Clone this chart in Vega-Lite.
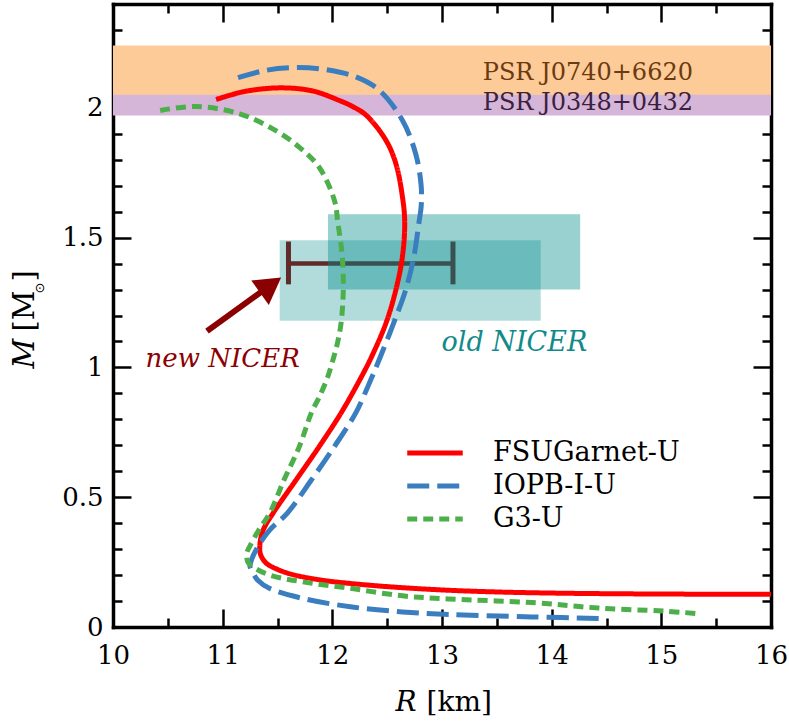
{
  "$schema": "https://vega.github.io/schema/vega-lite/v6.json",
  "width": 658,
  "height": 623,
  "autosize": {"type": "none"},
  "padding": {"left": 113, "top": 4, "right": 18, "bottom": 95},
  "background": "white",
  "config": {
    "view": {"stroke": null},
    "axis": {
      "grid": false,
      "labelFont": "DejaVu Serif",
      "labelFontSize": 26,
      "labelColor": "black",
      "titleFont": "DejaVu Serif",
      "titleFontSize": 28,
      "titleColor": "black",
      "titleFontWeight": "normal",
      "tickColor": "black",
      "tickWidth": 2.5,
      "domainColor": "black",
      "domainWidth": 3.5,
      "domainCap": "square",
      "labelFlush": false,
      "labelOverlap": false,
      "zindex": 1
    }
  },
  "datasets": {
    "bands": [
      {"name": "PSR J0740+6620", "r1": 10, "r2": 16, "m1": 2.04, "m2": 2.24},
      {"name": "PSR J0348+0432", "r1": 10, "r2": 16, "m1": 1.97, "m2": 2.05}
    ],
    "boxes": [
      {"name": "Miller 2019", "r1": 11.96, "r2": 14.26, "m1": 1.30, "m2": 1.59},
      {"name": "Riley 2019", "r1": 11.52, "r2": 13.90, "m1": 1.18, "m2": 1.49}
    ],
    "newnicer": [
      {"R": 12.35, "r_lo": 11.6, "r_hi": 13.1, "M": 1.40}
    ],
    "caps": [
      {"R": 11.6, "m_lo": 1.32, "m_hi": 1.485},
      {"R": 13.1, "m_lo": 1.32, "m_hi": 1.485}
    ],
    "arrow": [
      {"r1": 10.857, "m1": 1.14, "r2": 11.437, "m2": 1.317}
    ],
    "labels": [
      {"text": "PSR J0740+6620", "R": 14.33, "M": 2.109},
      {"text": "PSR J0348+0432", "R": 14.33, "M": 1.99},
      {"text": "new NICER", "R": 11.0, "M": 1.002},
      {"text": "old NICER", "R": 13.66, "M": 1.063}
    ],
    "curves": [
      {"model": "FSUGarnet-U", "i": 0, "R": 10.94, "M": 2.032},
      {"model": "FSUGarnet-U", "i": 1, "R": 11.2, "M": 2.063},
      {"model": "FSUGarnet-U", "i": 2, "R": 11.53, "M": 2.077},
      {"model": "FSUGarnet-U", "i": 3, "R": 11.82, "M": 2.065},
      {"model": "FSUGarnet-U", "i": 4, "R": 12.06, "M": 2.029},
      {"model": "FSUGarnet-U", "i": 5, "R": 12.19, "M": 2.004},
      {"model": "FSUGarnet-U", "i": 6, "R": 12.31, "M": 1.971},
      {"model": "FSUGarnet-U", "i": 7, "R": 12.49, "M": 1.874},
      {"model": "FSUGarnet-U", "i": 8, "R": 12.58, "M": 1.784},
      {"model": "FSUGarnet-U", "i": 9, "R": 12.64, "M": 1.655},
      {"model": "FSUGarnet-U", "i": 10, "R": 12.66, "M": 1.56},
      {"model": "FSUGarnet-U", "i": 11, "R": 12.64, "M": 1.43},
      {"model": "FSUGarnet-U", "i": 12, "R": 12.58, "M": 1.30},
      {"model": "FSUGarnet-U", "i": 13, "R": 12.49, "M": 1.172},
      {"model": "FSUGarnet-U", "i": 14, "R": 12.36, "M": 1.043},
      {"model": "FSUGarnet-U", "i": 15, "R": 12.25, "M": 0.952},
      {"model": "FSUGarnet-U", "i": 16, "R": 12.08, "M": 0.825},
      {"model": "FSUGarnet-U", "i": 17, "R": 11.88, "M": 0.695},
      {"model": "FSUGarnet-U", "i": 18, "R": 11.67, "M": 0.567},
      {"model": "FSUGarnet-U", "i": 19, "R": 11.46, "M": 0.439},
      {"model": "FSUGarnet-U", "i": 20, "R": 11.37, "M": 0.374},
      {"model": "FSUGarnet-U", "i": 21, "R": 11.34, "M": 0.32},
      {"model": "FSUGarnet-U", "i": 22, "R": 11.345, "M": 0.28},
      {"model": "FSUGarnet-U", "i": 23, "R": 11.40, "M": 0.245},
      {"model": "FSUGarnet-U", "i": 24, "R": 11.50, "M": 0.222},
      {"model": "FSUGarnet-U", "i": 25, "R": 11.62, "M": 0.204},
      {"model": "FSUGarnet-U", "i": 26, "R": 11.88, "M": 0.182},
      {"model": "FSUGarnet-U", "i": 27, "R": 12.34, "M": 0.161},
      {"model": "FSUGarnet-U", "i": 28, "R": 12.94, "M": 0.144},
      {"model": "FSUGarnet-U", "i": 29, "R": 13.5, "M": 0.135},
      {"model": "FSUGarnet-U", "i": 30, "R": 14.12, "M": 0.130},
      {"model": "FSUGarnet-U", "i": 31, "R": 15.0, "M": 0.127},
      {"model": "FSUGarnet-U", "i": 32, "R": 16.0, "M": 0.126},
      {"model": "IOPB-I-U", "i": 0, "R": 11.14, "M": 2.116},
      {"model": "IOPB-I-U", "i": 1, "R": 11.40, "M": 2.145},
      {"model": "IOPB-I-U", "i": 2, "R": 11.67, "M": 2.155},
      {"model": "IOPB-I-U", "i": 3, "R": 11.94, "M": 2.147},
      {"model": "IOPB-I-U", "i": 4, "R": 12.215, "M": 2.119},
      {"model": "IOPB-I-U", "i": 5, "R": 12.43, "M": 2.067},
      {"model": "IOPB-I-U", "i": 6, "R": 12.64, "M": 1.951},
      {"model": "IOPB-I-U", "i": 7, "R": 12.76, "M": 1.823},
      {"model": "IOPB-I-U", "i": 8, "R": 12.81, "M": 1.70},
      {"model": "IOPB-I-U", "i": 9, "R": 12.81, "M": 1.62},
      {"model": "IOPB-I-U", "i": 10, "R": 12.79, "M": 1.559},
      {"model": "IOPB-I-U", "i": 11, "R": 12.745, "M": 1.43},
      {"model": "IOPB-I-U", "i": 12, "R": 12.67, "M": 1.30},
      {"model": "IOPB-I-U", "i": 13, "R": 12.56, "M": 1.172},
      {"model": "IOPB-I-U", "i": 14, "R": 12.44, "M": 1.043},
      {"model": "IOPB-I-U", "i": 15, "R": 12.35, "M": 0.952},
      {"model": "IOPB-I-U", "i": 16, "R": 12.215, "M": 0.826},
      {"model": "IOPB-I-U", "i": 17, "R": 12.02, "M": 0.696},
      {"model": "IOPB-I-U", "i": 18, "R": 11.81, "M": 0.567},
      {"model": "IOPB-I-U", "i": 19, "R": 11.59, "M": 0.439},
      {"model": "IOPB-I-U", "i": 20, "R": 11.43, "M": 0.374},
      {"model": "IOPB-I-U", "i": 21, "R": 11.32, "M": 0.309},
      {"model": "IOPB-I-U", "i": 22, "R": 11.26, "M": 0.255},
      {"model": "IOPB-I-U", "i": 23, "R": 11.25, "M": 0.232},
      {"model": "IOPB-I-U", "i": 24, "R": 11.28, "M": 0.205},
      {"model": "IOPB-I-U", "i": 25, "R": 11.32, "M": 0.18},
      {"model": "IOPB-I-U", "i": 26, "R": 11.43, "M": 0.148},
      {"model": "IOPB-I-U", "i": 27, "R": 11.73, "M": 0.11},
      {"model": "IOPB-I-U", "i": 28, "R": 12.18, "M": 0.077},
      {"model": "IOPB-I-U", "i": 29, "R": 12.64, "M": 0.058},
      {"model": "IOPB-I-U", "i": 30, "R": 13.06, "M": 0.048},
      {"model": "IOPB-I-U", "i": 31, "R": 13.82, "M": 0.039},
      {"model": "IOPB-I-U", "i": 32, "R": 14.5, "M": 0.032},
      {"model": "G3-U", "i": 0, "R": 10.43, "M": 1.99},
      {"model": "G3-U", "i": 1, "R": 10.76, "M": 2.005},
      {"model": "G3-U", "i": 2, "R": 11.155, "M": 1.977},
      {"model": "G3-U", "i": 3, "R": 11.457, "M": 1.919},
      {"model": "G3-U", "i": 4, "R": 11.70, "M": 1.848},
      {"model": "G3-U", "i": 5, "R": 11.88, "M": 1.771},
      {"model": "G3-U", "i": 6, "R": 12.02, "M": 1.642},
      {"model": "G3-U", "i": 7, "R": 12.05, "M": 1.559},
      {"model": "G3-U", "i": 8, "R": 12.09, "M": 1.43},
      {"model": "G3-U", "i": 9, "R": 12.10, "M": 1.30},
      {"model": "G3-U", "i": 10, "R": 12.08, "M": 1.172},
      {"model": "G3-U", "i": 11, "R": 12.05, "M": 1.10},
      {"model": "G3-U", "i": 12, "R": 12.015, "M": 1.043},
      {"model": "G3-U", "i": 13, "R": 11.955, "M": 0.96},
      {"model": "G3-U", "i": 14, "R": 11.88, "M": 0.885},
      {"model": "G3-U", "i": 15, "R": 11.81, "M": 0.826},
      {"model": "G3-U", "i": 16, "R": 11.70, "M": 0.696},
      {"model": "G3-U", "i": 17, "R": 11.56, "M": 0.567},
      {"model": "G3-U", "i": 18, "R": 11.43, "M": 0.439},
      {"model": "G3-U", "i": 19, "R": 11.33, "M": 0.374},
      {"model": "G3-U", "i": 20, "R": 11.245, "M": 0.309},
      {"model": "G3-U", "i": 21, "R": 11.22, "M": 0.284},
      {"model": "G3-U", "i": 22, "R": 11.23, "M": 0.25},
      {"model": "G3-U", "i": 23, "R": 11.275, "M": 0.232},
      {"model": "G3-U", "i": 24, "R": 11.43, "M": 0.20},
      {"model": "G3-U", "i": 25, "R": 11.73, "M": 0.174},
      {"model": "G3-U", "i": 26, "R": 12.18, "M": 0.148},
      {"model": "G3-U", "i": 27, "R": 12.64, "M": 0.12},
      {"model": "G3-U", "i": 28, "R": 13.06, "M": 0.108},
      {"model": "G3-U", "i": 29, "R": 13.82, "M": 0.094},
      {"model": "G3-U", "i": 30, "R": 14.43, "M": 0.073},
      {"model": "G3-U", "i": 31, "R": 15.03, "M": 0.061},
      {"model": "G3-U", "i": 32, "R": 15.32, "M": 0.052}
    ]
  },
  "resolve": {"axis": {"x": "independent", "y": "independent"}},
  "layer": [
    {
      "data": {"name": "bands"},
      "transform": [{"filter": "datum.name == 'PSR J0740+6620'"}],
      "mark": {"type": "rect", "color": "#FDCB98", "strokeWidth": 0},
      "encoding": {
        "x": {"field": "r1", "type": "quantitative", "scale": {"domain": [10, 16], "nice": false, "zero": false},
          "axis": {"orient": "bottom", "values": [10, 11, 12, 13, 14, 15, 16], "ticks": false, "domain": false,
            "labelPadding": 36, "labelBaseline": "alphabetic",
            "title": "R", "titleFontStyle": "italic", "titleX": 282, "titleY": 83, "titleAlign": "left", "titleBaseline": "alphabetic", "titleAngle": 0}},
        "x2": {"field": "r2"},
        "y": {"field": "m1", "type": "quantitative", "scale": {"domain": [0, 2.4], "nice": false, "zero": false},
          "axis": {"orient": "left", "values": [0, 0.5, 1, 1.5, 2], "format": "~g", "ticks": false, "domain": false, "labelPadding": 10,
            "title": "M", "titleFontSize": 29, "titleFontStyle": "italic", "titleAngle": -90, "titleX": -80, "titleY": 364, "titleAlign": "left", "titleBaseline": "alphabetic"}},
        "y2": {"field": "m2"}
      }
    },
    {
      "data": {"name": "bands"},
      "transform": [{"filter": "datum.name == 'PSR J0348+0432'"}],
      "mark": {"type": "rect", "color": "#D5B6D8", "strokeWidth": 0},
      "encoding": {
        "x": {"field": "r1", "type": "quantitative",
          "axis": {"orient": "bottom", "values": [10, 11, 12, 13, 14, 15, 16], "tickSize": -18, "labels": false, "domain": true,
            "title": "[km]", "titleX": 313, "titleY": 83, "titleAlign": "left", "titleBaseline": "alphabetic", "titleAngle": 0}},
        "x2": {"field": "r2"},
        "y": {"field": "m1", "type": "quantitative",
          "axis": {"orient": "left", "values": [0, 0.5, 1, 1.5, 2], "tickSize": -18, "labels": false, "domain": true,
            "title": "[M", "titleFontSize": 29, "titleAngle": -90, "titleX": -80, "titleY": 327, "titleAlign": "left", "titleBaseline": "alphabetic"}},
        "y2": {"field": "m2"}
      }
    },
    {
      "data": {"name": "newnicer"},
      "mark": {"type": "rule", "color": "#8B0000", "strokeWidth": 4.5},
      "encoding": {
        "x": {"field": "r_lo", "type": "quantitative",
          "axis": {"orient": "top", "values": [10, 11, 12, 13, 14, 15, 16], "tickSize": -18, "labels": false, "domain": true, "title": null}},
        "x2": {"field": "r_hi"},
        "y": {"field": "M", "type": "quantitative",
          "axis": {"orient": "right", "values": [0, 0.5, 1, 1.5, 2], "tickSize": -18, "labels": false, "domain": true,
            "title": "⊙", "titleFont": "DejaVu Sans", "titleFontSize": 13, "titleAngle": -90, "titleX": -728, "titleY": 289, "titleAlign": "left", "titleBaseline": "alphabetic"}}
      }
    },
    {
      "data": {"name": "caps"},
      "mark": {"type": "rule", "color": "#8B0000", "strokeWidth": 5},
      "encoding": {
        "x": {"field": "R", "type": "quantitative",
          "axis": {"orient": "bottom", "values": [10.5, 11.5, 12.5, 13.5, 14.5, 15.5], "tickSize": -9, "labels": false, "domain": false, "title": null}},
        "y": {"field": "m_lo", "type": "quantitative",
          "axis": {"orient": "left", "values": [0.1, 0.2, 0.3, 0.4, 0.6, 0.7, 0.8, 0.9, 1.1, 1.2, 1.3, 1.4, 1.6, 1.7, 1.8, 1.9, 2.1, 2.2, 2.3], "tickSize": -9, "labels": false, "domain": false,
            "title": "]", "titleFontSize": 29, "titleAngle": -90, "titleX": -80, "titleY": 277, "titleAlign": "left", "titleBaseline": "alphabetic"}},
        "y2": {"field": "m_hi"}
      }
    },
    {
      "data": {"name": "boxes"},
      "transform": [{"filter": "datum.name == 'Miller 2019'"}],
      "mark": {"type": "rect", "color": "#008B8B", "opacity": 0.4, "strokeWidth": 0},
      "encoding": {
        "x": {"field": "r1", "type": "quantitative",
          "axis": {"orient": "top", "values": [10.5, 11.5, 12.5, 13.5, 14.5, 15.5], "tickSize": -9, "labels": false, "domain": false, "title": null}},
        "x2": {"field": "r2"},
        "y": {"field": "m1", "type": "quantitative",
          "axis": {"orient": "right", "values": [0.1, 0.2, 0.3, 0.4, 0.6, 0.7, 0.8, 0.9, 1.1, 1.2, 1.3, 1.4, 1.6, 1.7, 1.8, 1.9, 2.1, 2.2, 2.3], "tickSize": -9, "labels": false, "domain": false, "title": null}},
        "y2": {"field": "m2"}
      }
    },
    {
      "data": {"name": "boxes"},
      "transform": [{"filter": "datum.name == 'Riley 2019'"}],
      "mark": {"type": "rect", "color": "#008B8B", "opacity": 0.3, "strokeWidth": 0},
      "encoding": {
        "x": {"field": "r1", "type": "quantitative", "axis": null},
        "x2": {"field": "r2"},
        "y": {"field": "m1", "type": "quantitative", "axis": null},
        "y2": {"field": "m2"}
      }
    },
    {
      "data": {"name": "arrow"},
      "mark": {"type": "rule", "color": "#8B0000", "strokeWidth": 6},
      "encoding": {
        "x": {"field": "r1", "type": "quantitative", "axis": null},
        "x2": {"field": "r2"},
        "y": {"field": "m1", "type": "quantitative", "axis": null},
        "y2": {"field": "m2"}
      }
    },
    {
      "data": {"name": "arrow"},
      "mark": {"type": "point", "shape": "triangle-up", "filled": true, "color": "#8B0000", "size": 900, "angle": 54.3, "opacity": 1},
      "encoding": {
        "x": {"field": "r2", "type": "quantitative", "axis": null},
        "y": {"field": "m2", "type": "quantitative", "axis": null}
      }
    },
    {
      "data": {"name": "curves"},
      "mark": {"type": "line", "strokeWidth": 5, "strokeCap": "butt", "strokeJoin": "round", "clip": true, "interpolate": "catmull-rom"},
      "encoding": {
        "x": {"field": "R", "type": "quantitative", "axis": null},
        "y": {"field": "M", "type": "quantitative", "axis": null},
        "order": {"field": "i", "type": "quantitative"},
        "color": {"field": "model", "type": "nominal",
          "scale": {"domain": ["FSUGarnet-U", "IOPB-I-U", "G3-U"], "range": ["#FF0000", "#3A7EC0", "#4DAF4A"]},
          "legend": {"title": null, "orient": "none", "legendX": 302, "legendY": 429, "symbolType": "M-1.6,0H1.6", "symbolSize": 1204, "symbolStrokeWidth": 5,
            "labelFont": "DejaVu Serif", "labelFontSize": 27, "labelColor": "black", "labelOffset": 38, "rowPadding": 0, "padding": 0, "labelLimit": 400}},
        "strokeDash": {"field": "model", "type": "nominal",
          "scale": {"domain": ["FSUGarnet-U", "IOPB-I-U", "G3-U"], "range": [[1, 0], [22, 8], [10, 6]]},
          "legend": {"title": null, "orient": "none", "legendX": 302, "legendY": 429, "symbolType": "M-1.6,0H1.6", "symbolSize": 1204, "symbolStrokeWidth": 5,
            "labelFont": "DejaVu Serif", "labelFontSize": 27, "labelColor": "black", "labelOffset": 38, "rowPadding": 0, "padding": 0, "labelLimit": 400}}
      }
    },
    {
      "data": {"name": "labels"},
      "transform": [{"filter": "datum.text == 'PSR J0740+6620'"}],
      "mark": {"type": "text", "font": "DejaVu Serif", "fontSize": 24, "color": "#6B3A10", "align": "center", "baseline": "alphabetic"},
      "encoding": {
        "x": {"field": "R", "type": "quantitative", "axis": null},
        "y": {"field": "M", "type": "quantitative", "axis": null},
        "text": {"field": "text"}
      }
    },
    {
      "data": {"name": "labels"},
      "transform": [{"filter": "datum.text == 'PSR J0348+0432'"}],
      "mark": {"type": "text", "font": "DejaVu Serif", "fontSize": 24, "color": "#3B2040", "align": "center", "baseline": "alphabetic"},
      "encoding": {
        "x": {"field": "R", "type": "quantitative", "axis": null},
        "y": {"field": "M", "type": "quantitative", "axis": null},
        "text": {"field": "text"}
      }
    },
    {
      "data": {"name": "labels"},
      "transform": [{"filter": "datum.text == 'new NICER'"}],
      "mark": {"type": "text", "font": "DejaVu Serif", "fontSize": 26, "fontStyle": "italic", "color": "#8B0000", "align": "center", "baseline": "alphabetic"},
      "encoding": {
        "x": {"field": "R", "type": "quantitative", "axis": null},
        "y": {"field": "M", "type": "quantitative", "axis": null},
        "text": {"field": "text"}
      }
    },
    {
      "data": {"name": "labels"},
      "transform": [{"filter": "datum.text == 'old NICER'"}],
      "mark": {"type": "text", "font": "DejaVu Serif", "fontSize": 27, "fontStyle": "italic", "color": "#128A8A", "align": "center", "baseline": "alphabetic"},
      "encoding": {
        "x": {"field": "R", "type": "quantitative", "axis": null},
        "y": {"field": "M", "type": "quantitative", "axis": null},
        "text": {"field": "text"}
      }
    }
  ]
}
